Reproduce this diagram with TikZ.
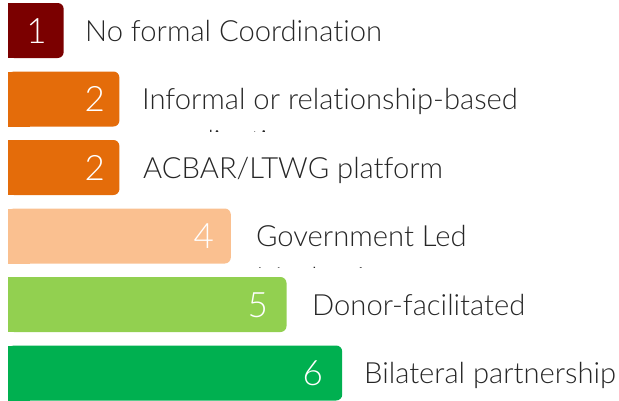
\documentclass[tikz,border=0pt]{standalone}
\usepackage{fontspec}
\setmainfont{Lato Light}[Ligatures=NoCommon]

\definecolor{lvlnone}{HTML}{7B0000}
\definecolor{lvlinformal}{HTML}{E46C0A}
\definecolor{lvlgov}{HTML}{FAC090}
\definecolor{lvldonor}{HTML}{92D050}
\definecolor{lvlbilat}{HTML}{00B050}

\begin{document}
\begin{tikzpicture}[x=1pt,y=-1pt,
    score/.style={text=white, inner sep=0pt, anchor=base east,
                  font=\fontsize{35}{40}\selectfont},
    label/.style={text=black!85, inner sep=0pt, anchor=base west,
                  font=\fontsize{29.2}{35}\selectfont}]
  \useasboundingbox (0,0) rectangle (619,400);

  % bars: rounded box, then a plain box over the left end
  \fill[lvlnone, rounded corners=6pt] (8,3) rectangle (63.7,58);
  \fill[lvlnone] (8,3) rectangle (30,58);
  \fill[lvlinformal, rounded corners=6pt] (8,71.5) rectangle (119.4,126.5);
  \fill[lvlinformal] (8,71.5) rectangle (30,126.5);
  \fill[lvlinformal, rounded corners=6pt] (8,140) rectangle (119.4,195);
  \fill[lvlinformal] (8,140) rectangle (30,195);
  \fill[lvlgov, rounded corners=6pt] (8,208.5) rectangle (230.8,263.5);
  \fill[lvlgov] (8,208.5) rectangle (30,263.5);
  \fill[lvldonor, rounded corners=6pt] (8,277) rectangle (286.5,332);
  \fill[lvldonor] (8,277) rectangle (30,332);
  \fill[lvlbilat, rounded corners=6pt] (8,345.5) rectangle (342.2,400.5);
  \fill[lvlbilat] (8,345.5) rectangle (30,400.5);

  % scores at the end of each bar
  \node[score] (s1) at (47,43) {1};
  \node[score] (s2) at (105,111.5) {2};
  \node[score] (s3) at (105,180) {2};
  \node[score] (s4) at (214,248.5) {4};
  \node[score] (s5) at (268,317) {5};
  \node[score] (s6) at (323,385.5) {6};

  % labels beside the bars
  \node[label] (l1) at (85,41) {No formal Coordination};
  \node[label] (l2) at (142,109.5) {Informal or relationship-based};
  \node[label] (l3) at (143,178) {ACBAR/LTWG platform};
  \node[label] (l4) at (256,246.5) {Government Led};
  \node[label] (l5) at (312,315) {Donor-facilitated};
  \node[label] (l6) at (364,383.5) {Bilateral partnership};

  % second lines run past the text box and are cut off
  \begin{scope}
    \clip (130,127.5) rectangle (619,131.5);
    \node[label] (l2b) at (142,151) {coordination};
  \end{scope}
  \begin{scope}
    \clip (240,264.5) rectangle (619,267.5);
    \node[label] (l4b) at (256,288) {Mechanism};
  \end{scope}
\end{tikzpicture}
\end{document}
